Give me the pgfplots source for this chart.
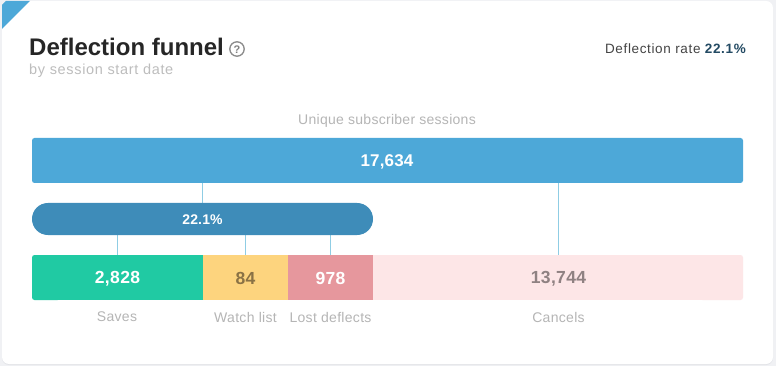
\documentclass[border=0pt]{standalone}
\usepackage{pgfplots}
\usepackage{fontspec}
\setmainfont{Liberation Sans}
\pgfplotsset{compat=1.18}
\definecolor{bgc}{HTML}{F0F1F4}
\definecolor{shadowc}{HTML}{E3E4E8}
\definecolor{mainb}{HTML}{4DA8D8}
\definecolor{pill}{HTML}{3E8CB9}
\definecolor{savec}{HTML}{20CAA3}
\definecolor{watchc}{HTML}{FDD47E}
\definecolor{lostc}{HTML}{E6979D}
\definecolor{cancelc}{HTML}{FDE6E7}
\definecolor{linkc}{HTML}{8FCDE4}
\definecolor{titlec}{HTML}{262626}
\definecolor{subc}{HTML}{BDBDBD}
\definecolor{labc}{HTML}{B5B5B5}
\definecolor{ratec}{HTML}{444444}
\definecolor{rateb}{HTML}{234A63}
\newcommand{\fs}[1]{\fontsize{#1}{#1}\selectfont}
\newcommand{\ls}[1]{\addfontfeature{LetterSpace=#1}}
\begin{document}
\begin{tikzpicture}
\begin{axis}[
  width=776pt,height=366pt,scale only axis,
  xmin=0,xmax=776,ymin=0,ymax=366,y dir=reverse,
  axis lines=none,clip=false,
  every axis plot/.append style={line width=0pt},
]
% page and card
\addplot[fill=bgc,draw=none] coordinates {(0,0)(776,0)(776,366)(0,366)} -- cycle;
\addplot[fill=shadowc,draw=none,rounded corners=7pt] coordinates {(2,2)(773,2)(773,365)(2,365)} -- cycle;
\addplot[fill=white,draw=none,rounded corners=7pt] coordinates {(2,1)(773,1)(773,364)(2,364)} -- cycle;
\addplot[fill=mainb,draw=none] coordinates {(2,5)(6,1)(30,1)(2,29)} -- cycle;
% connectors
\addplot[linkc,line width=1pt] coordinates {(202.5,183)(202.5,203)};
\addplot[linkc,line width=1pt] coordinates {(558.5,183)(558.5,255)};
\addplot[linkc,line width=1pt] coordinates {(117.5,235)(117.5,255)};
\addplot[linkc,line width=1pt] coordinates {(245.5,235)(245.5,255)};
\addplot[linkc,line width=1pt] coordinates {(330.5,235)(330.5,255)};
% bars
\addplot[fill=mainb,draw=none,rounded corners=2.5pt] coordinates {(32,138)(743,138)(743,183)(32,183)} -- cycle;
\addplot[fill=pill,draw=none,rounded corners=15.9pt] coordinates {(32,203)(373,203)(373,235)(32,235)} -- cycle;
\addplot[fill=savec,draw=none,rounded corners=2.5pt] coordinates {(32,255)(60,255)(60,300)(32,300)} -- cycle;
\addplot[fill=savec,draw=none] coordinates {(40,255)(203,255)(203,300)(40,300)} -- cycle;
\addplot[fill=watchc,draw=none] coordinates {(203,255)(288,255)(288,300)(203,300)} -- cycle;
\addplot[fill=lostc,draw=none] coordinates {(288,255)(373,255)(373,300)(288,300)} -- cycle;
\addplot[fill=cancelc,draw=none,rounded corners=2.5pt] coordinates {(700,255)(743,255)(743,300)(700,300)} -- cycle;
\addplot[fill=cancelc,draw=none] coordinates {(373,255)(735,255)(735,300)(373,300)} -- cycle;
% title block
\node[anchor=base west,inner sep=0pt,text=titlec] at (axis cs:29,56) {\fs{24}\bfseries Deflection funnel};
\node[anchor=base west,inner sep=0pt,text=subc] at (axis cs:29,74.5) {\fs{14.5}\ls{4.5}by session start date};
\draw[color=gray!90,line width=1.3pt] (axis cs:237,49) circle[radius=7.2pt];
\node[text=gray,inner sep=0pt] at (axis cs:237,49.5) {\fs{11}\bfseries ?};
\node[anchor=base east,inner sep=0pt,text=ratec] at (axis cs:746,53.5) {\fs{13.5}\ls{4.8}Deflection rate \textcolor{rateb}{\bfseries 22.1\%}};
% labels
\node[text=labc,inner sep=0pt] at (axis cs:387,121) {\fs{14}\ls{2}Unique subscriber sessions};
\node[text=white,inner sep=0pt] at (axis cs:387,161.5) {\fs{17}\bfseries\ls{0.8}17,634};
\node[text=white,inner sep=0pt] at (axis cs:202.5,219.5) {\fs{14}\bfseries\ls{1}22.1\%};
\node[text=white,inner sep=0pt] at (axis cs:117.5,278.7) {\fs{17.5}\bfseries\ls{2}2,828};
\node[text={rgb,255:red,138;green,114;blue,69},inner sep=0pt] at (axis cs:245.5,278.7) {\fs{17.5}\bfseries\ls{2}84};
\node[text=white,inner sep=0pt] at (axis cs:330.5,278.7) {\fs{17.5}\bfseries\ls{2}978};
\node[text={rgb,255:red,143;green,129;blue,130},inner sep=0pt] at (axis cs:558.5,278.7) {\fs{17.5}\bfseries\ls{2}13,744};
\node[text=labc,inner sep=0pt] at (axis cs:117,317) {\fs{14}\ls{2.2}Saves};
\node[text=labc,inner sep=0pt] at (axis cs:245.5,317) {\fs{14}\ls{2.2}Watch list};
\node[text=labc,inner sep=0pt] at (axis cs:330.5,317) {\fs{14}\ls{2.2}Lost deflects};
\node[text=labc,inner sep=0pt] at (axis cs:558.5,317) {\fs{14}\ls{2.2}Cancels};
\end{axis}
\end{tikzpicture}
\end{document}
